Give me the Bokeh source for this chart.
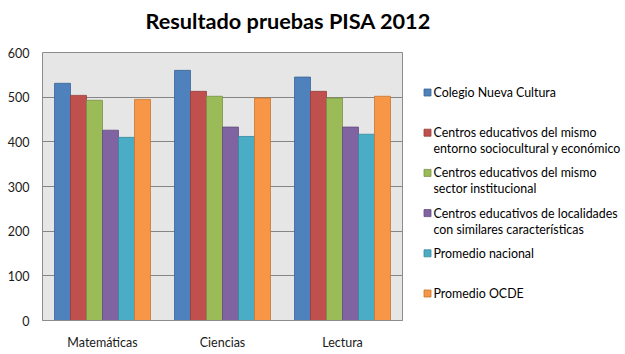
from bokeh.plotting import figure
from bokeh.models import FactorRange, ColumnDataSource, Range1d, FixedTicker
from bokeh.layouts import column, row
from bokeh.core.properties import value
from bokeh.transform import dodge
from bokeh.embed import file_html
from bokeh.resources import INLINE

title = "Resultado pruebas PISA 2012"
categories = ["Matemáticas", "Ciencias", "Lectura"]
series_names = [
    ["Colegio Nueva Cultura"],
    ["Centros educativos del mismo", "entorno sociocultural y económico"],
    ["Centros educativos del mismo", "sector institucional"],
    ["Centros educativos de localidades", "con similares características"],
    ["Promedio nacional"],
    ["Promedio OCDE"],
]
colegio = [531, 560, 545]
entorno = [504, 513, 513]
sector = [493, 502, 498]
localidades = [426, 433, 433]
nacional = [410, 412, 417]
ocde = [495, 498, 502]
y_ticks = [0, 100, 200, 300, 400, 500, 600]

series_values = [colegio, entorno, sector, localidades, nacional, ocde]
colors = ["#4F81BD", "#C0504D", "#9BBB59", "#8064A2", "#4BACC6", "#F79646"]
lines = ["#3A6595", "#963C3A", "#789244", "#634D7F", "#36899E", "#C6762F"]

FONT = "Lato"
W, H = 625, 354
TITLE_H = 44
MAIN_W = 410
LEG_W = W - MAIN_W
BODY_H = H - TITLE_H
FRAME_L, FRAME_R, FRAME_T, FRAME_B = 42, 402, 52, 320


def bare_figure(w, h, xr, yr, **kw):
    fig = figure(width=w, height=h, x_range=xr, y_range=yr, output_backend="svg",
                 toolbar_location=None, title_location=None,
                 x_axis_location=None, y_axis_location=None, **kw)
    fig.grid.visible = False
    fig.outline_line_color = None
    fig.background_fill_color = "white"
    fig.border_fill_color = "white"
    return fig


# ---- title strip ----
tf = bare_figure(W, TITLE_H, Range1d(0, W), Range1d(TITLE_H, 0), min_border=0)
tf.text(x=[145], y=[20], text=[title], text_font=value(FONT), text_font_size="21.7px",
        text_font_style="bold", text_color="#000000", text_align="left",
        text_baseline="alphabetic")

# ---- bar chart ----
data = {"cat": categories}
for i, vals in enumerate(series_values):
    data[f"s{i}"] = vals
src = ColumnDataSource(data)

p = figure(x_range=FactorRange(*categories, range_padding=0), y_range=Range1d(0, 600),
           width=MAIN_W, height=BODY_H, output_backend="svg", toolbar_location=None,
           title_location=None,
           min_border_left=FRAME_L, min_border_right=MAIN_W - FRAME_R,
           min_border_top=FRAME_T - TITLE_H, min_border_bottom=H - FRAME_B)

bw = 0.8 / 6
for i in range(6):
    p.vbar(x=dodge("cat", -0.4 + bw * (i + 0.5), range=p.x_range), top=f"s{i}", width=bw,
           source=src, fill_color=colors[i], line_color=lines[i], line_width=0.8)

p.background_fill_color = "#E6E6E6"
p.border_fill_color = "white"
p.outline_line_color = "#8C8C8C"
p.ygrid.grid_line_color = "#858585"
p.ygrid.grid_line_width = 1
p.xgrid.grid_line_color = None
p.yaxis.ticker = FixedTicker(ticks=y_ticks)
p.yaxis.axis_line_color = None
p.yaxis.major_tick_line_color = None
p.yaxis.minor_tick_line_color = None
p.yaxis.major_tick_out = 0
p.yaxis.minor_tick_out = 0
p.yaxis.major_label_standoff = 13
p.xaxis.axis_line_color = "#8C8C8C"
p.xaxis.major_tick_line_color = None
p.xaxis.major_tick_out = 0
p.xaxis.major_label_standoff = 14
for ax in (p.xaxis, p.yaxis):
    ax.major_label_text_font = FONT
    ax.major_label_text_font_size = "12.5px"
    ax.major_label_text_color = "#1A1A1A"

# ---- legend panel (ranges in page pixels, frame aligned with the chart frame) ----
lf = bare_figure(LEG_W, BODY_H, Range1d(MAIN_W, W), Range1d(FRAME_B, FRAME_T),
                 min_border_left=0, min_border_right=0,
                 min_border_top=FRAME_T - TITLE_H, min_border_bottom=H - FRAME_B)
first_row = 92
pitch = 40.2
line_gap = 16
sq_x = 427
txt_x = 433
sq_y, tx, ty, tt = [], [], [], []
for i, names in enumerate(series_names):
    y0 = first_row + pitch * i
    sq_y.append(y0)
    for k, name in enumerate(names):
        tx.append(txt_x)
        ty.append(y0 + k * line_gap)
        tt.append(name)
lf.rect(x=[sq_x] * len(sq_y), y=sq_y, width=7, height=7, fill_color=colors,
        line_color=lines, line_width=0.8)
lf.text(x=tx, y=ty, text=tt, text_font=value(FONT), text_font_size="12.4px",
        text_color="#000000", text_align="left", text_baseline="middle")

layout = column(tf, row(p, lf, spacing=0), spacing=0)
open("out.html", "w").write(file_html(layout, INLINE))
